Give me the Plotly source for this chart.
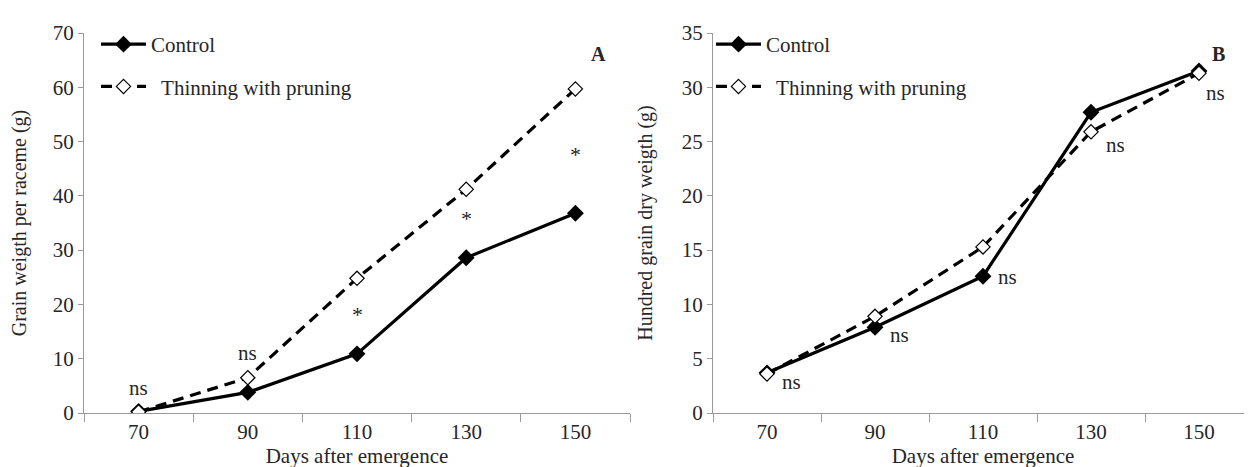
import plotly.graph_objects as go

days = ["70", "90", "110", "130", "150"]

# Panel A: grain weight per raceme (g)
a_control = [0.3, 3.8, 10.9, 28.6, 36.8]
a_thinning = [0.2, 6.5, 24.8, 41.2, 59.7]
a_sig_labels = ["ns", "ns", "*", "*", "*"]
a_sig_y = [4.6, 11.0, 18.2, 35.9, 47.7]

# Panel B: hundred grain dry weight (g)
b_control = [3.7, 7.9, 12.6, 27.7, 31.5]
b_thinning = [3.6, 8.9, 15.3, 25.9, 31.3]
b_sig_labels = ["ns", "ns", "ns", "ns", "ns"]
b_sig_y = [2.9, 7.2, 12.5, 24.7, 29.5]

FONT = "Liberation Serif, Times New Roman, serif"
TXT = "#262626"
AX = "#9a9a9a"

fig = go.Figure()

def add_panel(xa, ya, control, thinning, legend):
    fig.add_trace(go.Scatter(
        x=days, y=control, name="Control", mode="lines+markers",
        line=dict(color="black", width=3.2),
        marker=dict(symbol="diamond", size=13, color="black"),
        xaxis=xa, yaxis=ya, legend=legend, legendgroup=legend + "c"))
    fig.add_trace(go.Scatter(
        x=days, y=thinning, name="  Thinning with pruning", mode="lines+markers",
        line=dict(color="black", width=3.2, dash="11px,7px"),
        marker=dict(symbol="diamond", size=11, color="white",
                    line=dict(color="black", width=1.2)),
        xaxis=xa, yaxis=ya, legend=legend, legendgroup=legend + "t"))

add_panel("x", "y", a_control, a_thinning, "legend")
add_panel("x2", "y2", b_control, b_thinning, "legend2")

ydom = [62 / 467, 442 / 467]
xaxis_common = dict(
    type="category", tickson="boundaries", range=[-0.5, 4.5],
    showline=True, linecolor=AX, linewidth=1.2,
    ticks="outside", ticklen=8, tickcolor=AX,
    showgrid=False, zeroline=False,
    tickfont=dict(family=FONT, size=21, color=TXT),
    title=dict(text="Days after emergence", font=dict(family=FONT, size=21, color=TXT), standoff=0),
    automargin=False,
)
yaxis_common = dict(
    domain=ydom, showline=True, linecolor=AX, linewidth=1.2,
    ticks="outside", ticklen=5, tickcolor=AX,
    showgrid=False, zeroline=False,
    tickfont=dict(family=FONT, size=21, color=TXT),
    automargin=False,
)

legend_common = dict(xanchor="left", yanchor="top",
                     font=dict(family=FONT, size=21, color=TXT), bgcolor="rgba(0,0,0,0)",
                     itemwidth=45, tracegroupgap=12)

fig.update_layout(
    width=1252, height=467,
    margin=dict(l=0, r=0, t=0, b=0),
    paper_bgcolor="white", plot_bgcolor="white",
    font=dict(family=FONT, color=TXT),
    xaxis=dict(domain=[76 / 1252, 622 / 1252], anchor="y", **xaxis_common),
    xaxis2=dict(domain=[705 / 1252, 1245 / 1252], anchor="y2", **xaxis_common),
    yaxis=dict(anchor="x", range=[0, 70], dtick=10,
               title=dict(text="Grain weigth per raceme (g)",
                          font=dict(family=FONT, size=20, color=TXT), standoff=23),
               **yaxis_common),
    yaxis2=dict(anchor="x2", range=[0, 35], dtick=5,
                title=dict(text="Hundred grain dry weigth (g)",
                           font=dict(family=FONT, size=20, color=TXT), standoff=23),
                **yaxis_common),
    legend=dict(x=88 / 1252, y=1 - 16 / 467, **legend_common),
    legend2=dict(x=703 / 1252, y=1 - 16 / 467, **legend_common),
    showlegend=True,
)

for i, (lab, yv) in enumerate(zip(a_sig_labels, a_sig_y)):
    fig.add_annotation(x=i, y=yv, xref="x", yref="y", text=lab, showarrow=False,
                       font=dict(family=FONT, size=21 if lab == "ns" else 22, color=TXT))
for i, (lab, yv) in enumerate(zip(b_sig_labels, b_sig_y)):
    fig.add_annotation(x=i + (0.15 if i == 4 else 0.23), y=yv, xref="x2", yref="y2", text=lab,
                       showarrow=False, font=dict(family=FONT, size=21, color=TXT))

fig.add_annotation(x=590 / 1252, y=1 - 33 / 467, xref="paper", yref="paper", text="<b>A</b>",
                   showarrow=False, font=dict(family=FONT, size=20, color=TXT))
fig.add_annotation(x=1219 / 1252, y=1 - 33 / 467, xref="paper", yref="paper", text="<b>B</b>",
                   showarrow=False, font=dict(family=FONT, size=20, color=TXT))

fig.write_html("out.html")
